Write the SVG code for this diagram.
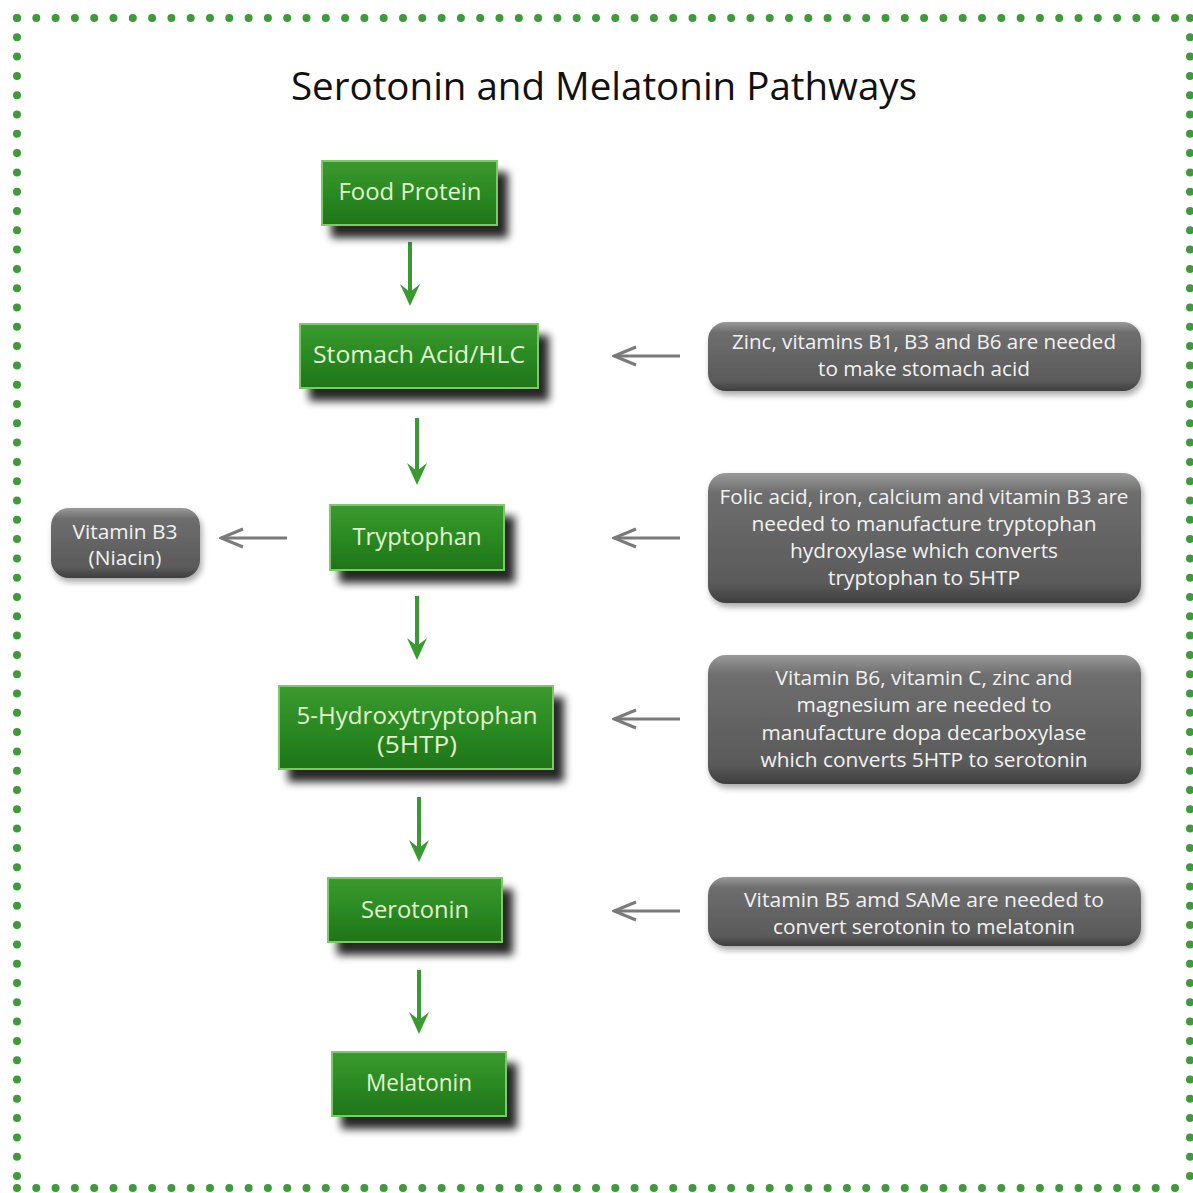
<svg xmlns="http://www.w3.org/2000/svg" width="1193" height="1193" viewBox="0 0 1193 1193">
<style>
.dots{stroke:#3f9a3a;stroke-width:8;stroke-linecap:round;stroke-dasharray:0 19.3;fill:none}
.gbox{fill:url(#gg);stroke:#7fc86a;stroke-width:2}
.gtxt{font-family:"Open Sans","Liberation Sans",sans-serif;font-size:23px;fill:#e4f4cf;text-anchor:middle}
.ybox{fill:url(#yg)}
.ytxt{font-family:"Open Sans","Liberation Sans",sans-serif;font-size:20px;fill:#f2f2f2;text-anchor:middle}
.yarr{stroke:#7a7a7a;stroke-width:3;fill:none;marker-end:url(#ay)}
</style>
<defs>
<linearGradient id="gg" x1="0" y1="0" x2="0" y2="1">
<stop offset="0" stop-color="#3b9a30"/><stop offset="0.5" stop-color="#2a8a22"/><stop offset="1" stop-color="#1f7418"/>
</linearGradient>
<linearGradient id="yg" x1="0" y1="0" x2="0" y2="1">
<stop offset="0" stop-color="#9a9a9a"/><stop offset="0.15" stop-color="#6e6e6e"/><stop offset="0.85" stop-color="#5a5a5a"/><stop offset="1" stop-color="#3e3e3e"/>
</linearGradient>
<filter id="sh" x="-20%" y="-30%" width="150%" height="180%">
<feGaussianBlur in="SourceAlpha" stdDeviation="4"/>
<feOffset dx="10" dy="12" result="b"/>
<feComponentTransfer><feFuncA type="linear" slope="0.85"/></feComponentTransfer>
<feMerge><feMergeNode/><feMergeNode in="SourceGraphic"/></feMerge>
</filter>
<filter id="sh2" x="-10%" y="-20%" width="120%" height="150%">
<feGaussianBlur in="SourceAlpha" stdDeviation="3"/>
<feOffset dx="2" dy="4"/>
<feComponentTransfer><feFuncA type="linear" slope="0.35"/></feComponentTransfer>
<feMerge><feMergeNode/><feMergeNode in="SourceGraphic"/></feMerge>
</filter>
<marker id="ay" markerWidth="30" markerHeight="24" refX="28" refY="12" orient="auto" markerUnits="userSpaceOnUse" viewBox="0 0 30 24">
<path d="M6 3 L28 12 L6 21" fill="none" stroke="#7a7a7a" stroke-width="3"/>
</marker>
</defs>
<rect width="1193" height="1193" fill="#ffffff"/>
<g id="border">
<line class="dots" x1="17" y1="18" x2="1190" y2="18"/>
<line class="dots" x1="17" y1="1188" x2="1190" y2="1188"/>
<line class="dots" x1="17" y1="18" x2="17" y2="1188"/>
<line class="dots" x1="1190" y1="18" x2="1190" y2="1188"/>
</g>
<text x="604" y="100" font-family="'Open Sans','Liberation Sans',sans-serif" font-size="38" fill="#111" text-anchor="middle" textLength="626" lengthAdjust="spacingAndGlyphs">Serotonin and Melatonin Pathways</text>
<g id="connectors">
<g fill="#3a9a32" stroke="none">
<line x1="410" y1="242" x2="410" y2="300" stroke="#3a9a32" stroke-width="4"/><path d="M400 284 L410 306 L420 284 L410 292 Z"/>
<line x1="417" y1="418" x2="417" y2="479" stroke="#3a9a32" stroke-width="4"/><path d="M407 463 L417 485 L427 463 L417 471 Z"/>
<line x1="417" y1="596" x2="417" y2="654" stroke="#3a9a32" stroke-width="4"/><path d="M407 638 L417 660 L427 638 L417 646 Z"/>
<line x1="419" y1="797" x2="419" y2="856" stroke="#3a9a32" stroke-width="4"/><path d="M409 840 L419 862 L429 840 L419 848 Z"/>
<line x1="419" y1="970" x2="419" y2="1028" stroke="#3a9a32" stroke-width="4"/><path d="M409 1012 L419 1034 L429 1012 L419 1020 Z"/>
</g>
<line class="yarr" x1="680" y1="356" x2="614" y2="356"/>
<line class="yarr" x1="680" y1="538" x2="614" y2="538"/>
<line class="yarr" x1="680" y1="719" x2="614" y2="719"/>
<line class="yarr" x1="680" y1="911" x2="614" y2="911"/>
<line class="yarr" x1="287" y1="538" x2="221" y2="538"/>
</g>
<g id="food-protein"><rect class="gbox" x="322" y="161" width="175" height="64" filter="url(#sh)"/><text class="gtxt" x="410" y="200" textLength="143" lengthAdjust="spacingAndGlyphs">Food Protein</text></g>
<g id="stomach-acid"><rect class="gbox" x="300" y="324" width="238" height="64" filter="url(#sh)"/><text class="gtxt" x="419" y="363" textLength="212" lengthAdjust="spacingAndGlyphs">Stomach Acid/HLC</text></g>
<g id="tryptophan"><rect class="gbox" x="330" y="505" width="174" height="65" filter="url(#sh)"/><text class="gtxt" x="417" y="545" textLength="129" lengthAdjust="spacingAndGlyphs">Tryptophan</text></g>
<g id="htp"><rect class="gbox" x="279" y="686" width="274" height="83" filter="url(#sh)"/><text class="gtxt" x="417" y="724" font-size="20" textLength="241" lengthAdjust="spacingAndGlyphs">5-Hydroxytryptophan</text><text class="gtxt" x="417" y="753" font-size="20" textLength="80" lengthAdjust="spacingAndGlyphs">(5HTP)</text></g>
<g id="serotonin"><rect class="gbox" x="328" y="878" width="174" height="64" filter="url(#sh)"/><text class="gtxt" x="415" y="918" textLength="108" lengthAdjust="spacingAndGlyphs">Serotonin</text></g>
<g id="melatonin"><rect class="gbox" x="332" y="1052" width="174" height="64" filter="url(#sh)"/><text class="gtxt" x="419" y="1091" textLength="106" lengthAdjust="spacingAndGlyphs">Melatonin</text></g>
<g id="niacin"><rect class="ybox" x="51" y="508" width="149" height="70" rx="18" filter="url(#sh2)"/><text class="ytxt" x="125" y="539" textLength="105" lengthAdjust="spacingAndGlyphs">Vitamin B3</text><text class="ytxt" x="125" y="565" textLength="73" lengthAdjust="spacingAndGlyphs">(Niacin)</text></g>
<g id="note-zinc"><rect class="ybox" x="708" y="322" width="433" height="69" rx="18" filter="url(#sh2)"/><text class="ytxt" x="924" y="349" textLength="384" lengthAdjust="spacingAndGlyphs">Zinc, vitamins B1, B3 and B6 are needed</text><text class="ytxt" x="924" y="376" textLength="212" lengthAdjust="spacingAndGlyphs">to make stomach acid</text></g>
<g id="note-folic"><rect class="ybox" x="708" y="473" width="433" height="130" rx="18" filter="url(#sh2)"/><text class="ytxt" x="924" y="504" textLength="409" lengthAdjust="spacingAndGlyphs">Folic acid, iron, calcium and vitamin B3 are</text><text class="ytxt" x="924" y="531" textLength="345" lengthAdjust="spacingAndGlyphs">needed to manufacture tryptophan</text><text class="ytxt" x="924" y="558" textLength="268" lengthAdjust="spacingAndGlyphs">hydroxylase which converts</text><text class="ytxt" x="924" y="585" textLength="192" lengthAdjust="spacingAndGlyphs">tryptophan to 5HTP</text></g>
<g id="note-b6"><rect class="ybox" x="708" y="655" width="433" height="129" rx="18" filter="url(#sh2)"/><text class="ytxt" x="924" y="685" textLength="297" lengthAdjust="spacingAndGlyphs">Vitamin B6, vitamin C, zinc and</text><text class="ytxt" x="924" y="712" textLength="255" lengthAdjust="spacingAndGlyphs">magnesium are needed to</text><text class="ytxt" x="924" y="740" textLength="325" lengthAdjust="spacingAndGlyphs">manufacture dopa decarboxylase</text><text class="ytxt" x="924" y="767" textLength="327" lengthAdjust="spacingAndGlyphs">which converts 5HTP to serotonin</text></g>
<g id="note-b5"><rect class="ybox" x="708" y="877" width="433" height="69" rx="18" filter="url(#sh2)"/><text class="ytxt" x="924" y="907" textLength="360" lengthAdjust="spacingAndGlyphs">Vitamin B5 amd SAMe are needed  to</text><text class="ytxt" x="924" y="934" textLength="302" lengthAdjust="spacingAndGlyphs">convert serotonin to melatonin</text></g>
</svg>
